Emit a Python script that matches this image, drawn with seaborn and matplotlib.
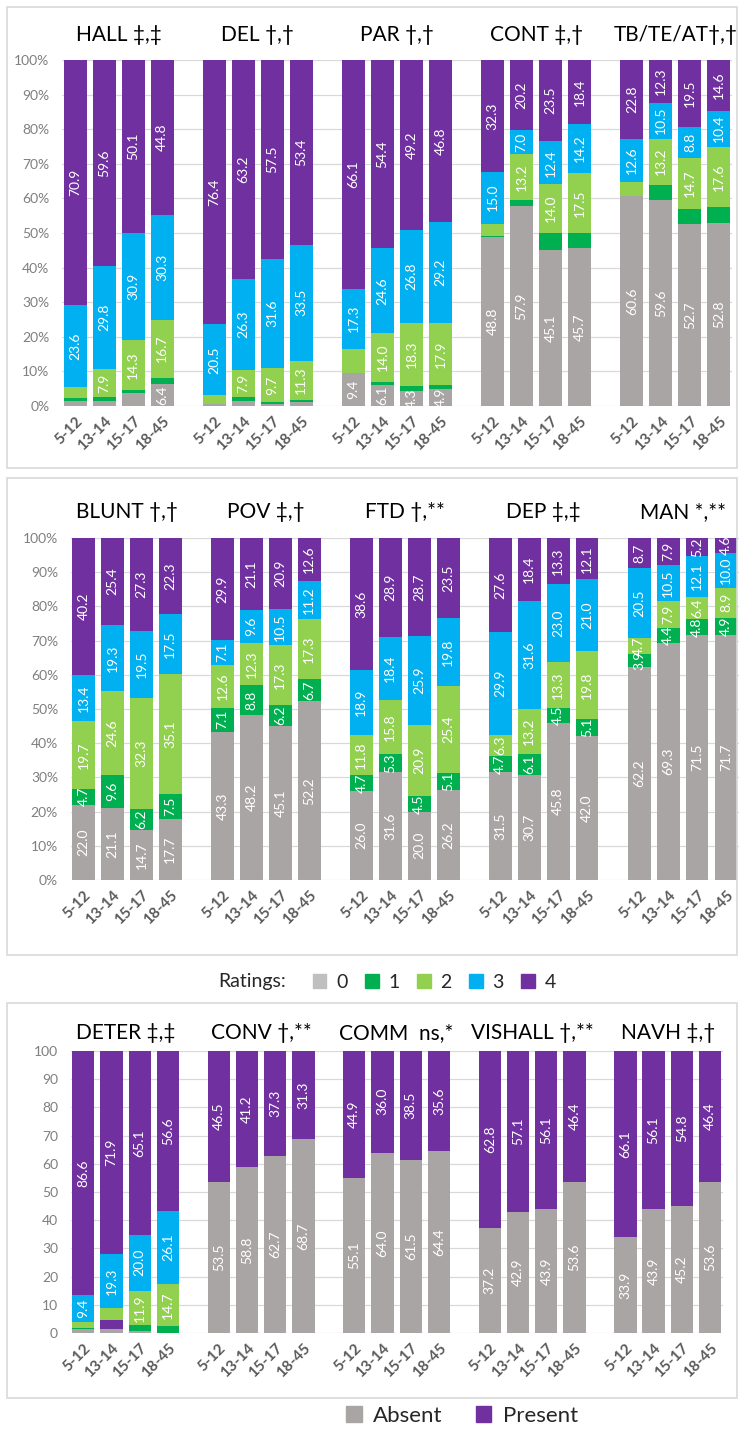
import pandas as pd
import matplotlib.pyplot as plt
from matplotlib.patches import Patch, Rectangle
import seaborn as sns

# age groups (same for every panel)
AGES = ['5-12', '13-14', '15-17', '18-45']

# rating colours 0..4
COLOURS = ['#A9A5A5', '#00B050', '#92D050', '#00B0F0', '#7030A0']

# ---- top row: % per rating 0..4 (rows), age groups (columns)
HALL = [[1.5, 1.5, 3.7, 6.4],
        [0.8, 1.2, 1.0, 1.8],
        [3.2, 7.9, 14.3, 16.7],
        [23.6, 29.8, 30.9, 30.3],
        [70.9, 59.6, 50.1, 44.8]]
DEL = [[0.5, 1.5, 0.6, 1.2],
       [0.2, 1.1, 0.6, 0.6],
       [2.4, 7.9, 9.7, 11.3],
       [20.5, 26.3, 31.6, 33.5],
       [76.4, 63.2, 57.5, 53.4]]
PAR = [[9.4, 6.1, 4.3, 4.9],
       [0.1, 0.9, 1.4, 1.2],
       [7.1, 14.0, 18.3, 17.9],
       [17.3, 24.6, 26.8, 29.2],
       [66.1, 54.4, 49.2, 46.8]]
CONT = [[48.8, 57.9, 45.1, 45.7],
        [0.4, 1.7, 5.0, 4.2],
        [3.5, 13.2, 14.0, 17.5],
        [15.0, 7.0, 12.4, 14.2],
        [32.3, 20.2, 23.5, 18.4]]
TBTEAT = [[60.6, 59.6, 52.7, 52.8],
          [0.0, 4.4, 4.3, 4.6],
          [4.0, 13.2, 14.7, 17.6],
          [12.6, 10.5, 8.8, 10.4],
          [22.8, 12.3, 19.5, 14.6]]

# ---- middle row
BLUNT = [[22.0, 21.1, 14.7, 17.7],
         [4.7, 9.6, 6.2, 7.5],
         [19.7, 24.6, 32.3, 35.1],
         [13.4, 19.3, 19.5, 17.5],
         [40.2, 25.4, 27.3, 22.3]]
POV = [[43.3, 48.2, 45.1, 52.2],
       [7.1, 8.8, 6.2, 6.7],
       [12.6, 12.3, 17.3, 17.3],
       [7.1, 9.6, 10.5, 11.2],
       [29.9, 21.1, 20.9, 12.6]]
FTD = [[26.0, 31.6, 20.0, 26.2],
       [4.7, 5.3, 4.5, 5.1],
       [11.8, 15.8, 20.9, 25.4],
       [18.9, 18.4, 25.9, 19.8],
       [38.6, 28.9, 28.7, 23.5]]
DEP = [[31.5, 30.7, 45.8, 42.0],
       [4.7, 6.1, 4.5, 5.1],
       [6.3, 13.2, 13.3, 19.8],
       [29.9, 31.6, 23.0, 21.0],
       [27.6, 18.4, 13.3, 12.1]]
MAN = [[62.2, 69.3, 71.5, 71.7],
       [3.9, 4.4, 4.8, 4.9],
       [4.7, 7.9, 6.4, 8.9],
       [20.5, 10.5, 12.1, 10.0],
       [8.7, 7.9, 5.2, 4.6]]

# ---- bottom row
DETER = [[1.4, 1.4, 0.7, 0.0],
         [0.2, 3.1, 2.3, 2.6],
         [2.4, 4.3, 11.9, 14.7],
         [9.4, 19.3, 20.0, 26.1],
         [86.6, 71.9, 65.1, 56.6]]
CONV_absent = [53.5, 58.8, 62.7, 68.7]
CONV_present = [46.5, 41.2, 37.3, 31.3]
COMM_absent = [55.1, 64.0, 61.5, 64.4]
COMM_present = [44.9, 36.0, 38.5, 35.6]
VISHALL_absent = [37.2, 42.9, 43.9, 53.6]
VISHALL_present = [62.8, 57.1, 56.1, 46.4]
NAVH_absent = [33.9, 43.9, 45.2, 53.6]
NAVH_present = [66.1, 56.1, 54.8, 46.4]

NONE = [0.0, 0.0, 0.0, 0.0]

row1 = [('HALL ‡,‡', HALL), ('DEL †,†', DEL), ('PAR †,†', PAR),
        ('CONT ‡,†', CONT), ('TB/TE/AT†,†', TBTEAT)]
row2 = [('BLUNT †,†', BLUNT), ('POV ‡,†', POV), ('FTD †,**', FTD),
        ('DEP ‡,‡', DEP), ('MAN *,**', MAN)]
row3 = [('DETER ‡,‡', DETER),
        ('CONV †,**', [CONV_absent, NONE, NONE, NONE, CONV_present]),
        ('COMM  ns,*', [COMM_absent, NONE, NONE, NONE, COMM_present]),
        ('VISHALL †,**', [VISHALL_absent, NONE, NONE, NONE, VISHALL_present]),
        ('NAVH ‡,†', [NAVH_absent, NONE, NONE, NONE, NAVH_present])]

GROUP_STEP = 4.8
W, H = 739, 1430

sns.set_style('white')
plt.rcParams['font.family'] = ['Lato', 'DejaVu Sans']


def build(panels):
    rows = []
    for g, (name, ratings) in enumerate(panels):
        for i, age in enumerate(AGES):
            bottom = 0.0
            for r, vals in enumerate(ratings):
                v = vals[i]
                rows.append(dict(panel=name, age=age, pos=g * GROUP_STEP + i,
                                 rating=r, value=v, bottom=bottom, top=bottom + v))
                bottom += v
    return pd.DataFrame(rows)


def px_axes(fig, left, right, top, bottom):
    return fig.add_axes([left / W, 1 - bottom / H, (right - left) / W, (bottom - top) / H])


def draw(ax, panels, show_label, pct=True, title_off=25):
    df = build(panels)
    # overlay cumulative bars, highest cumulative first
    for r in range(4, -1, -1):
        layer = df[df.rating == r]
        sns.barplot(data=layer, x='pos', y='top', native_scale=True, orient='x',
                    color=COLOURS[r], saturation=1, width=0.79, errorbar=None,
                    linewidth=0, ax=ax)
        if r == 1:
            # one odd segment in the source chart is drawn purple
            odd = layer[(layer.panel == 'DETER ‡,‡') & (layer.age == '13-14')]
            for p in ax.containers[-1]:
                for pos in odd.pos:
                    if abs(p.get_x() + p.get_width() / 2 - pos) < 0.01:
                        p.set_facecolor(COLOURS[4])
    for _, s in df.iterrows():
        if show_label(s):
            ax.text(s.pos, s.bottom + s.value / 2, f'{s.value:.1f}', rotation=90,
                    ha='center', va='center', color='white', fontsize=10)
    trans = ax.get_xaxis_transform()
    h_px = ax.get_position().height * H
    for g, (name, _) in enumerate(panels):
        ax.text(g * GROUP_STEP + 1.5, 1 + title_off / h_px, name, transform=trans,
                ha='center', va='center', fontsize=15, color='black')
    ax.set_xlim(-0.45, 4 * GROUP_STEP + 3 + 0.45)
    ax.set_ylim(0, 100)
    ax.set_xticks(df.pos.unique())
    ax.set_xticklabels(AGES * len(panels), rotation=45, ha='right',
                       rotation_mode='anchor', fontsize=11, fontweight='bold',
                       color='#595959')
    ax.set_yticks(range(0, 101, 10))
    ax.set_yticklabels([f'{t}%' if pct else str(t) for t in range(0, 101, 10)],
                       fontsize=10, color='#7F7F7F')
    ax.tick_params(axis='both', length=0)
    ax.tick_params(axis='y', pad=9)
    ax.tick_params(axis='x', pad=6)
    ax.yaxis.grid(True, color='#D9D9D9', linewidth=0.9)
    ax.set_axisbelow(True)
    for sp in ax.spines.values():
        sp.set_visible(False)
    ax.set_xlabel('')
    ax.set_ylabel('')


fig = plt.figure(figsize=(W / 100, H / 100), dpi=100)

# panel frames
for top, bottom in [(7, 468), (478, 955), (1003, 1398)]:
    fig.patches.append(Rectangle((7 / W, 1 - bottom / H), 730 / W, (bottom - top) / H,
                                 transform=fig.transFigure, fill=False,
                                 edgecolor='#D9D9D9', linewidth=1.2))

ax1 = px_axes(fig, 62, 732, 60, 406)
draw(ax1, row1, lambda s: s.value >= 4.1 and s.rating != 1
     and not (s.panel == 'PAR †,†' and s.age == '5-12' and s.rating == 2))

ax2 = px_axes(fig, 70.5, 739, 538, 880)
draw(ax2, row2, lambda s: s.value > 0, title_off=26)

ax3 = px_axes(fig, 70.5, 722.8, 1051, 1333)
draw(ax3, row3, lambda s: s.value >= 5, pct=False, title_off=18)

# legends
fig.text(218 / W, 1 - 982 / H, 'Ratings:', ha='left', va='center', fontsize=14)
rating_handles = [Patch(color=c) for c in ['#BFBFBF'] + COLOURS[1:]]
fig.legend(rating_handles, ['0', '1', '2', '3', '4'], loc='center left',
           bbox_to_anchor=(303 / W, 1 - 982 / H), ncol=5, frameon=False,
           fontsize=14, handlelength=0.7, handleheight=0.7, handletextpad=0.5,
           columnspacing=0.9, borderpad=0)
fig.legend([Patch(color=COLOURS[0]), Patch(color=COLOURS[4])], ['Absent', 'Present'],
           loc='center', bbox_to_anchor=(462 / W, 1 - 1416 / H), ncol=2,
           frameon=False, fontsize=16, handlelength=0.7, handleheight=0.7,
           handletextpad=0.5, columnspacing=1.5, borderpad=0)

fig.savefig('out.png', dpi=100)
